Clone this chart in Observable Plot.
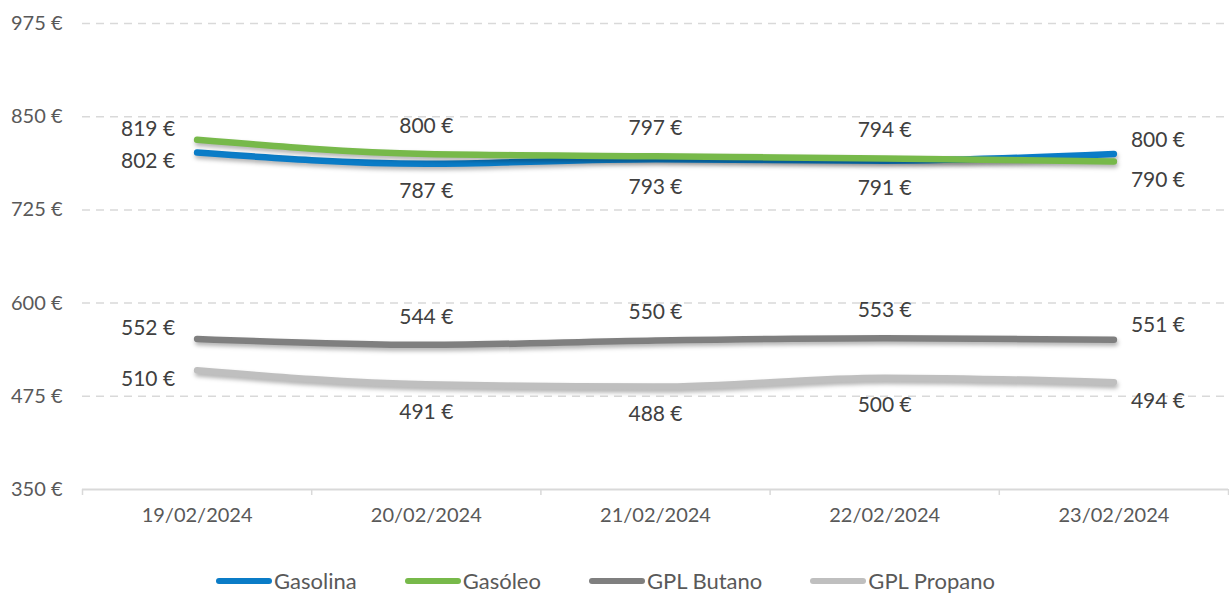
<!DOCTYPE html>
<html>
<head>
<meta charset="utf-8">
<script src="https://cdn.jsdelivr.net/npm/d3@7"></script>
<script src="https://cdn.jsdelivr.net/npm/@observablehq/plot@0.6"></script>
<style>
  body { margin: 0; background: #fff; font-family: Lato, "Open Sans", sans-serif; }
  #legend { display: flex; justify-content: center; align-items: center; gap: 48px; margin-top: 24px; font-size: 22px; color: #595959; line-height: 24px; padding-right: 18px; }
  .item { display: flex; align-items: center; gap: 2px; }
  .sw { width: 56px; height: 6px; border-radius: 3px; display: inline-block; }
</style>
</head>
<body>
<div id="chart"></div>
<div id="legend"></div>
<script>
const dates = ["19/02/2024", "20/02/2024", "21/02/2024", "22/02/2024", "23/02/2024"];
const series = ["Gasolina", "Gasóleo", "GPL Butano", "GPL Propano"];
const colors = ["#0a7cc7", "#77b94a", "#7f7f7f", "#bfbfbf"];
const gasolina = [802, 787, 793, 791, 800];
const gasoleo = [819, 800, 797, 794, 790];
const butano = [552, 544, 550, 553, 551];
const propano = [510, 491, 488, 500, 494];
const yTicks = [350, 475, 600, 725, 850, 975];

const values = [gasolina, gasoleo, butano, propano];
const pairOf = [1, 0, 3, 2];
const last = dates.length - 1;
const data = [];
values.forEach((vals, s) => {
  vals.forEach((v, i) => {
    const other = values[pairOf[s]][i];
    data.push({series: series[s], i, value: v, higher: v > other,
      pos: i === 0 ? "first" : i === last ? "last" : "mid"});
  });
});

const euro = d => d + " €";
const lbl = {fill: "#404040", fontSize: 21, fontFamily: "Lato, sans-serif"};
const textMark = (pos, higher, opts) =>
  Plot.text(data.filter(d => d.pos === pos && d.higher === higher),
    {x: "i", y: "value", text: d => euro(d.value), ...lbl, ...opts});

const chart = Plot.plot({
  width: 1229, height: 545,
  marginLeft: 82, marginRight: 1, marginTop: 23, marginBottom: 56,
  style: {fontFamily: "Lato, sans-serif", background: "#fff", fontSize: "20px"},
  x: {domain: [-0.5, dates.length - 0.5]},
  y: {domain: [350, 975]},
  color: {domain: series, range: colors},
  marks: [
    Plot.gridY(yTicks.slice(1), {stroke: "#d9d9d9", strokeOpacity: 1, strokeWidth: 1.5, strokeDasharray: "8,6"}),
    Plot.axisY(yTicks, {tickSize: 0, tickPadding: 20, tickFormat: euro, fontSize: 20, fill: "#595959", label: null}),
    Plot.axisX(d3.range(dates.length + 1).map(k => k - 0.5), {tickSize: 6, stroke: "#d9d9d9", strokeWidth: 1.5, tickFormat: () => "", label: null}),
    Plot.axisX(d3.range(dates.length), {tickSize: 0, tickPadding: 18, tickFormat: k => dates[k], fontSize: 20, fill: "#595959", label: null}),
    Plot.ruleY([350], {stroke: "#d9d9d9", strokeWidth: 2}),
    ...series.map(s => Plot.line(data.filter(d => d.series === s), {
      x: "i", y: "value", stroke: "series", strokeWidth: 6.5, curve: "monotone-x",
      strokeLinecap: "round", strokeLinejoin: "round"
    })),
    textMark("first", true, {textAnchor: "end", dx: -22, dy: -11}),
    textMark("first", false, {textAnchor: "end", dx: -22, dy: 9}),
    textMark("mid", true, {dy: -28}),
    textMark("mid", false, {dy: 28}),
    textMark("last", true, {textAnchor: "start", dx: 17, dy: -14}),
    textMark("last", false, {textAnchor: "start", dx: 17, dy: 19})
  ]
});

d3.select(chart).selectAll('g[aria-label="line"] path')
  .style("filter", "drop-shadow(1.5px 3px 2px rgba(0,0,0,0.3))");
document.getElementById("chart").appendChild(chart);

const legend = d3.select("#legend");
series.forEach((s, k) => {
  const it = legend.append("div").attr("class", "item");
  it.append("span").attr("class", "sw").style("background", colors[k]);
  it.append("span").text(s);
});
</script>
</body>
</html>
